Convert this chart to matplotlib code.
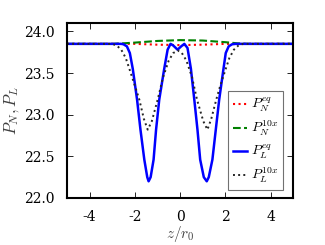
import numpy as np
import matplotlib
matplotlib.use('Agg')
import matplotlib.pyplot as plt

plt.rcParams['font.family'] = 'serif'
plt.rcParams['font.serif'] = ['DejaVu Serif']
plt.rcParams['mathtext.fontset'] = 'cm'
plt.rcParams['axes.unicode_minus'] = False

# P_N^eq (red dotted)
z_neq = [-5.0, -2.0, -1.0, 0.0, 1.0, 2.0, 5.0]
p_neq = [23.85, 23.85, 23.84, 23.835, 23.84, 23.85, 23.85]

# P_N^10x (green dashed)
z_n10 = [-5.0, -3.0, -2.6, -2.0, -1.0, 0.0, 1.0, 2.0, 2.6, 3.0, 5.0]
p_n10 = [23.85, 23.85, 23.855, 23.865, 23.885, 23.895, 23.89, 23.87, 23.855, 23.85, 23.85]

# P_L^eq (blue solid)
z_leq = [-5.0, -3.0, -2.6, -2.5, -2.35, -2.22, -2.09, -1.90, -1.75, -1.58, -1.45, -1.39,
         -1.30, -1.17, -1.06, -0.92, -0.70, -0.55, -0.42, -0.30, -0.11, 0.05, 0.19,
         0.33, 0.48, 0.63, 0.77, 0.89, 1.05, 1.18, 1.27, 1.43, 1.58, 1.73, 1.92, 2.02,
         2.15, 2.30, 2.46, 5.0]
p_leq = [23.85, 23.85, 23.85, 23.845, 23.82, 23.74, 23.55, 23.18, 22.82, 22.46, 22.25, 22.20,
         22.25, 22.46, 22.82, 23.18, 23.55, 23.78, 23.85, 23.83, 23.78, 23.82, 23.85,
         23.80, 23.55, 23.18, 22.82, 22.46, 22.25, 22.20, 22.25, 22.46, 22.82, 23.18, 23.55, 23.74,
         23.82, 23.845, 23.85, 23.85]

# P_L^10x (black dotted)
z_l10 = [-5.0, -3.0, -2.8, -2.6, -2.4, -2.24, -2.0, -1.8, -1.6, -1.43, -1.25, -0.99,
         -0.75, -0.5, -0.3, -0.1, 0.08, 0.28, 0.53, 0.75, 1.03, 1.21, 1.38, 1.6,
         1.78, 2.02, 2.18, 2.38, 2.58, 2.78, 5.0]
p_l10 = [23.85, 23.85, 23.83, 23.78, 23.68, 23.55, 23.35, 23.18, 22.95, 22.82, 22.92, 23.18,
         23.45, 23.65, 23.74, 23.77, 23.74, 23.65, 23.45, 23.18, 22.92, 22.82, 22.95, 23.18,
         23.35, 23.55, 23.68, 23.78, 23.83, 23.85, 23.85]

fig = plt.figure(figsize=(3.25, 2.45), dpi=100)
ax = fig.add_axes([0.206, 0.192, 0.696, 0.714])

ax.plot(z_neq, p_neq, ':', color='red', lw=1.5, label='$P_N^{eq}$')
ax.plot(z_n10, p_n10, '--', color='green', lw=1.5, label='$P_N^{10x}$')
ax.plot(z_leq, p_leq, '-', color='blue', lw=1.8, label='$P_L^{eq}$')
ax.plot(z_l10, p_l10, ':', color='0.15', lw=1.4, label='$P_L^{10x}$')

ax.set_xlim(-5, 5)
ax.set_ylim(22.0, 24.1)
ax.set_xticks([-4, -2, 0, 2, 4])
ax.set_yticks([22.0, 22.5, 23.0, 23.5, 24.0])
ax.tick_params(direction='in', top=True, right=True, length=4, labelsize=10,
               width=0.6, pad=9)
for s in ax.spines.values():
    s.set_linewidth(1.5)

ax.set_xlabel('$z/r_0$', fontsize=11, labelpad=0, color='0.25')
ax.set_ylabel('$P_N, P_L$', fontsize=12, labelpad=2, color='0.25')

leg = ax.legend(loc='lower right', bbox_to_anchor=(0.955, 0.045), fancybox=False,
                fontsize=10, handlelength=1.0, handletextpad=0.3, borderpad=0.35,
                labelspacing=0.35, borderaxespad=0)
leg.get_frame().set_edgecolor('0.3')
leg.get_frame().set_linewidth(0.8)

fig.savefig('out.png', dpi=100)
